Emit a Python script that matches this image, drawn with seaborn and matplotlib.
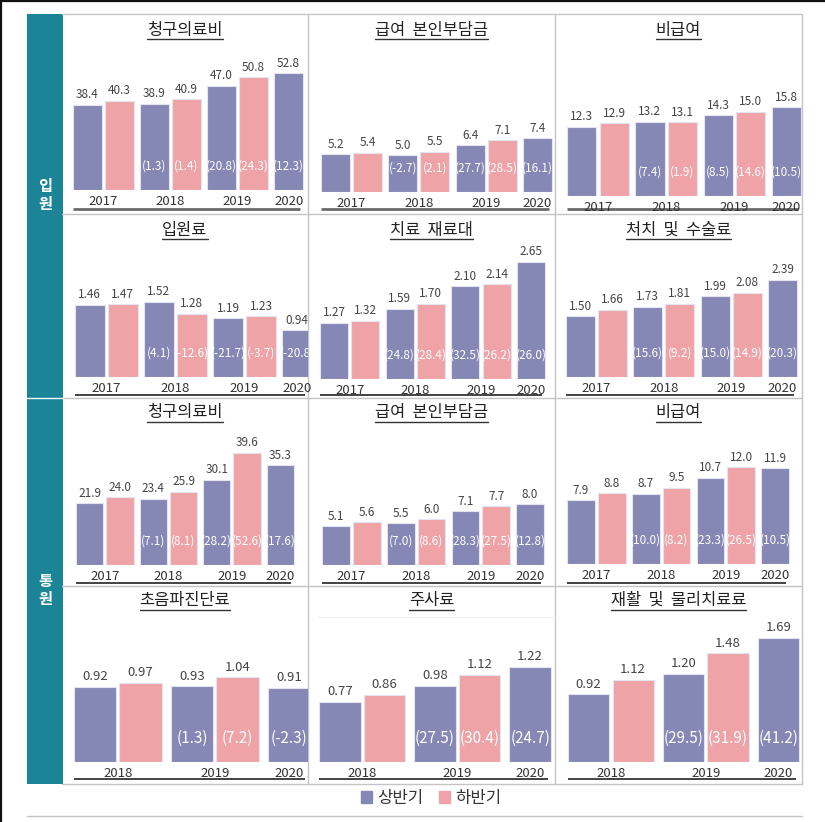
import matplotlib
matplotlib.use("Agg")
import matplotlib.pyplot as plt
from matplotlib.patches import Patch, Rectangle
import seaborn as sns
import pandas as pd

sns.set_theme(style="white")
plt.rcParams['font.family'] = ['Noto Sans CJK KR', 'DejaVu Sans']

# ---------------- data ----------------
halves = ["상반기", "하반기"]
groups = ["입원", "통원"]
titles = ["청구의료비", "급여  본인부담금", "비급여",
          "입원료", "치료  재료대", "처치  및  수술료",
          "청구의료비", "급여  본인부담금", "비급여",
          "초음파진단료", "주사료", "재활  및  물리치료료"]
years_a = ["2017", "2018", "2019", "2020"]
years_b = ["2018", "2019", "2020"]

# 입원
in_claim_h1 = [38.4, 38.9, 47.0, 52.8]
in_claim_h2 = [40.3, 40.9, 50.8]
in_claim_g1 = [1.3, 20.8, 12.3]
in_claim_g2 = [1.4, 24.3]
in_copay_h1 = [5.2, 5.0, 6.4, 7.4]
in_copay_h2 = [5.4, 5.5, 7.1]
in_copay_g1 = [-2.7, 27.7, 16.1]
in_copay_g2 = [2.1, 28.5]
in_noncov_h1 = [12.3, 13.2, 14.3, 15.8]
in_noncov_h2 = [12.9, 13.1, 15.0]
in_noncov_g1 = [7.4, 8.5, 10.5]
in_noncov_g2 = [1.9, 14.6]
in_room_h1 = [1.46, 1.52, 1.19, 0.94]
in_room_h2 = [1.47, 1.28, 1.23]
in_room_g1 = [4.1, -21.7, -20.8]
in_room_g2 = [-12.6, -3.7]
in_mat_h1 = [1.27, 1.59, 2.10, 2.65]
in_mat_h2 = [1.32, 1.70, 2.14]
in_mat_g1 = [24.8, 32.5, 26.0]
in_mat_g2 = [28.4, 26.2]
in_surg_h1 = [1.50, 1.73, 1.99, 2.39]
in_surg_h2 = [1.66, 1.81, 2.08]
in_surg_g1 = [15.6, 15.0, 20.3]
in_surg_g2 = [9.2, 14.9]
# 통원
out_claim_h1 = [21.9, 23.4, 30.1, 35.3]
out_claim_h2 = [24.0, 25.9, 39.6]
out_claim_g1 = [7.1, 28.2, 17.6]
out_claim_g2 = [8.1, 52.6]
out_copay_h1 = [5.1, 5.5, 7.1, 8.0]
out_copay_h2 = [5.6, 6.0, 7.7]
out_copay_g1 = [7.0, 28.3, 12.8]
out_copay_g2 = [8.6, 27.5]
out_noncov_h1 = [7.9, 8.7, 10.7, 11.9]
out_noncov_h2 = [8.8, 9.5, 12.0]
out_noncov_g1 = [10.0, 23.3, 10.5]
out_noncov_g2 = [8.2, 26.5]
out_us_h1 = [0.92, 0.93, 0.91]
out_us_h2 = [0.97, 1.04]
out_us_g1 = [1.3, -2.3]
out_us_g2 = [7.2]
out_inj_h1 = [0.77, 0.98, 1.22]
out_inj_h2 = [0.86, 1.12]
out_inj_g1 = [27.5, 24.7]
out_inj_g2 = [30.4]
out_rehab_h1 = [0.92, 1.20, 1.69]
out_rehab_h2 = [1.12, 1.48]
out_rehab_g1 = [29.5, 41.2]
out_rehab_g2 = [31.9]

panels = [
    (years_a, in_claim_h1, in_claim_h2, in_claim_g1, in_claim_g2, 1),
    (years_a, in_copay_h1, in_copay_h2, in_copay_g1, in_copay_g2, 1),
    (years_a, in_noncov_h1, in_noncov_h2, in_noncov_g1, in_noncov_g2, 1),
    (years_a, in_room_h1, in_room_h2, in_room_g1, in_room_g2, 2),
    (years_a, in_mat_h1, in_mat_h2, in_mat_g1, in_mat_g2, 2),
    (years_a, in_surg_h1, in_surg_h2, in_surg_g1, in_surg_g2, 2),
    (years_a, out_claim_h1, out_claim_h2, out_claim_g1, out_claim_g2, 1),
    (years_a, out_copay_h1, out_copay_h2, out_copay_g1, out_copay_g2, 1),
    (years_a, out_noncov_h1, out_noncov_h2, out_noncov_g1, out_noncov_g2, 1),
    (years_b, out_us_h1, out_us_h2, out_us_g1, out_us_g2, 2),
    (years_b, out_inj_h1, out_inj_h2, out_inj_g1, out_inj_g2, 2),
    (years_b, out_rehab_h1, out_rehab_h2, out_rehab_g1, out_rehab_g2, 2),
]

# ---------------- layout / style ----------------
W, H = 825, 822
C_H1, C_H2 = "#8587B4", "#EFA3A6"
TEAL = "#1B8496"
GRIDC = "#C4C4C4"
cols = [(62, 308), (308, 555), (555, 802)]
row_tops = [14, 214, 398, 586]
row_bottoms = [214, 398, 586, 784]
title_y = [30, 230, 412, 600]
axisline_y = [209, 395, 583, 779]
baselines = [190, 192, 196, 377, 379, 377, 565, 565, 564, 762, 762, 762]
px_per_unit = [2.216, 7.30, 5.63, 49.5, 44.2, 40.6, 2.83, 7.6, 8.05, 81.6, 78.0, 73.6]
bar_spans = [(73, 303), (321, 552), (567, 801),
             (75, 312), (320, 545), (566, 797),
             (76, 294), (322, 544), (567, 789),
             (74, 310), (319, 551), (568, 799)]

fig = plt.figure(figsize=(W / 100, H / 100), dpi=100)
bg = fig.add_axes([0, 0, 1, 1], zorder=0)
bg.set_xlim(0, W)
bg.set_ylim(H, 0)
bg.axis("off")

# outer frame lines
bg.plot([0, W], [1, 1], color="#111111", lw=1.6)
bg.plot([1, 1], [0, H], color="#111111", lw=1.6)
# grid of panels
for y in [row_tops[0]] + row_bottoms:
    bg.plot([62, 802], [y, y], color=GRIDC, lw=1)
for x in [308, 555, 802]:
    bg.plot([x, x], [row_tops[0], row_bottoms[-1]], color=GRIDC, lw=1)
bg.plot([27, 802], [816, 816], color=GRIDC, lw=1)
bg.plot([318, 555], [617, 617], color="#EEEEEE", lw=0.8)
# sidebar
bg.add_patch(Rectangle((27, row_tops[0]), 36, row_bottoms[-1] - row_tops[0], color=TEAL, lw=0))
bg.plot([27, 63], [398, 398], color="white", lw=1)
bg.text(45, 195, "입\n원", color="white", fontsize=11, fontweight="bold",
        ha="center", va="center", linespacing=1.15)
bg.text(45, 590, "통\n원", color="white", fontsize=11, fontweight="bold",
        ha="center", va="center", linespacing=1.15)

title_texts = []
for i, (years, h1, h2, g1, g2, dec) in enumerate(panels):
    r, c = divmod(i, 3)
    cl, cr = cols[c]
    base = baselines[i]
    top = row_tops[r] + 40
    small = r < 3
    gpitch = 2.1 if small else 2.13
    w = 0.9 if small else 0.93

    pos, vals, hv, centers = [], [], [], []
    for k in range(len(years)):
        p0 = k * gpitch
        pos.append(p0); vals.append(h1[k]); hv.append(halves[0])
        if k < len(h2):
            pos.append(p0 + 1); vals.append(h2[k]); hv.append(halves[1])
            centers.append(p0 + 0.5)
        else:
            centers.append(p0)
    df = pd.DataFrame({"pos": pos, "val": vals, "half": hv})

    ax = fig.add_axes([cl / W, 1 - base / H, (cr - cl) / W, (base - top) / H], zorder=2)
    ax.patch.set_alpha(0)
    sns.barplot(data=df, x="pos", y="val", hue="half", hue_order=halves,
                palette=[C_H1, C_H2], native_scale=True, dodge=False, width=w,
                errorbar=None, legend=False, ax=ax, edgecolor="#E4E4F0", linewidth=0.8,
                saturation=1)
    bl, br = bar_spans[i]
    span_units = pos[-1] + w
    u = (br - bl) / span_units
    x0 = -w / 2 - (bl - cl) / u
    ax.set_xlim(x0, x0 + (cr - cl) / u)
    ax.set_ylim(0, (base - top) / px_per_unit[i])
    ax.set_xticks(centers)
    ax.set_xticklabels(years)
    ax.tick_params(axis="x", length=0, pad=3.5, labelsize=9.5, labelcolor="#333333")
    ax.set_yticks([])
    ax.set_xlabel(""); ax.set_ylabel("")
    for s in ax.spines.values():
        s.set_visible(False)

    fmt = "{:.%df}" % dec
    vfs = 8.5 if small else 9.5
    gfs = 8.5 if small else 11
    for p, v in zip(pos, vals):
        ax.annotate(fmt.format(v), (p, v), xytext=(0, 2.5), textcoords="offset points",
                    ha="center", va="bottom", fontsize=vfs, color="#444444", clip_on=False)
    # growth labels (from second year on)
    gpos, gvals = [], []
    for k in range(1, len(years)):
        gpos.append(k * gpitch); gvals.append(g1[k - 1])
        if k < len(h2):
            gpos.append(k * gpitch + 1); gvals.append(g2[k - 1])
    for p, g in zip(gpos, gvals):
        ax.annotate("({:.1f})".format(g), (p, 0), xytext=(0, 17), textcoords="offset points",
                    ha="center", va="center", fontsize=gfs, color="white", clip_on=True,
                    annotation_clip=False)

    # baseline rule under the year labels
    lc, lw = ("#6A6A6A", 2.0) if r == 0 else ("#222222", 1.2)
    bg.plot([bl, min(br, cr) - 3], [axisline_y[r], axisline_y[r]], color=lc, lw=lw,
            solid_capstyle="butt")
    t = bg.text((cl + cr) / 2, title_y[r], titles[i], ha="center", va="center",
                fontsize=11.8, color="#222222")
    title_texts.append((t, r))

fig.legend(handles=[Patch(color=C_H1, label=halves[0]), Patch(color=C_H2, label=halves[1])],
           loc="center", bbox_to_anchor=(431 / W, 1 - 798 / H), ncol=2, frameon=False,
           fontsize=12, handlelength=0.7, handleheight=0.7, handletextpad=0.3,
           columnspacing=0.9, labelcolor="#333333")

# underline titles
fig.canvas.draw()
for t, r in title_texts:
    bb = t.get_window_extent()
    bg.plot([bb.x0, bb.x1], [title_y[r] + 9.5, title_y[r] + 9.5], color="#333333", lw=1)

fig.savefig("out.png", dpi=100)
